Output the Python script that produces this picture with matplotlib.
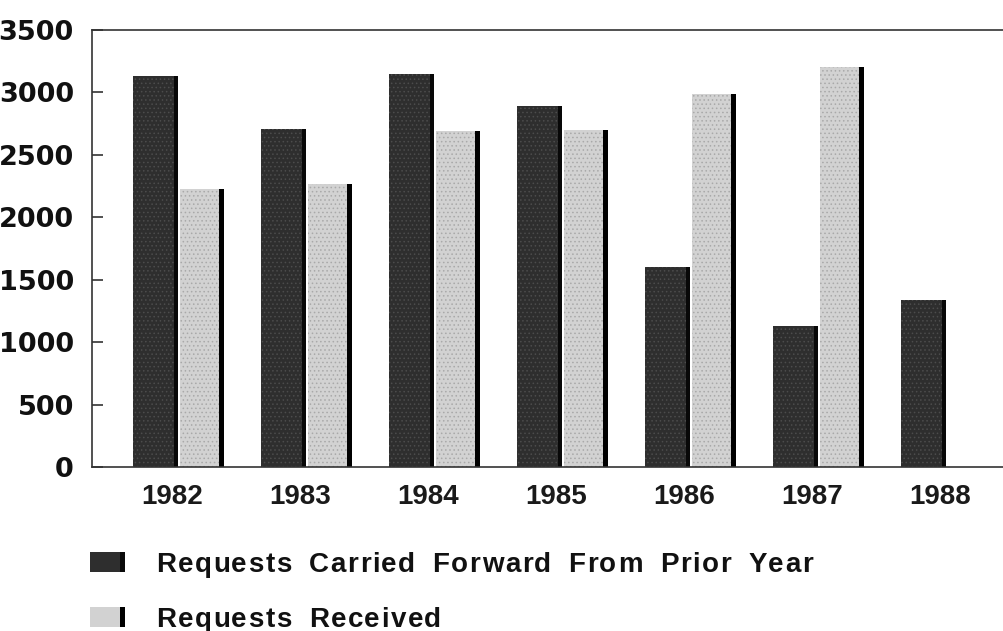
import matplotlib
matplotlib.use("Agg")
import matplotlib.pyplot as plt
from matplotlib.patches import Rectangle
from matplotlib.font_manager import findfont, FontProperties
from matplotlib.ft2font import FT2Font
import numpy as np

years = ["1982", "1983", "1984", "1985", "1986", "1987", "1988"]
carried_forward = [3135, 2705, 3145, 2890, 1605, 1130, 1335]
received = [2225, 2270, 2690, 2700, 2985, 3200, 0]
yticks = [0, 500, 1000, 1500, 2000, 2500, 3000, 3500]
labels = ["Requests Carried Forward From Prior Year", "Requests Received"]

dark = "#2e2e2e"
light = "#d2d2d2"

plt.rcParams['font.family'] = ['DejaVu Sans']
plt.rcParams['hatch.linewidth'] = 0.6

fig = plt.figure(figsize=(10.04, 6.31), dpi=100)
ax = fig.add_axes([0.0916, 0.2599, 0.9084, 0.6926])

x = np.arange(len(years))
w = 0.35
ax.bar(x - 0.305, carried_forward, width=w, align='edge', color=dark, edgecolor='#4c4c4c',
       linewidth=0, hatch='....')
ax.bar(x - 0.305 + w - 0.03, carried_forward, width=0.03, align='edge', color='#080808', edgecolor='none')
mask = np.array(received) > 0
rx = x[mask]
rv = np.array(received)[mask]
ax.bar(rx + 0.06, rv, width=w - 0.04, align='edge', color=light, edgecolor='#a9a9a9',
       linewidth=0, hatch='....')
ax.bar(rx + 0.06 + w - 0.045, rv, width=0.045, align='edge', color='#000000', edgecolor='none')

ax.set_xlim(-0.625, 6.5)
ax.set_ylim(0, 3500)
ax.set_yticks(yticks)
ax.set_yticklabels([str(t) for t in yticks], fontsize=19.5, fontweight='bold',
                   color='#111111', family='DejaVu Sans')
ax.set_xticks(x)
ax.set_xticklabels(years, fontsize=20, fontweight='bold', color='#1a1a1a',
                   family=['Liberation Sans', 'DejaVu Sans'])
ax.tick_params(axis='y', direction='in', length=8, width=1.2, pad=13, color='#333333')
ax.tick_params(axis='x', length=0, pad=12)
for s in ['left', 'top', 'bottom']:
    ax.spines[s].set_linewidth(1.2)
    ax.spines[s].set_color('#333333')
ax.spines['right'].set_visible(False)

# legend (drawn manually, with letter tracking like the typeset original)
W, H = 1004.0, 631.0
LEG_SIZE = 20
fp = FontProperties(family='Liberation Sans', weight='bold', size=LEG_SIZE)
try:
    ft = FT2Font(findfont(fp))
    ft.set_size(LEG_SIZE, 100)
    def advance(ch):
        return ft.load_char(ord(ch)).linearHoriAdvance / 65536.0
except Exception:
    def advance(ch):
        return 0.58 * LEG_SIZE * 100 / 72


def tracked_text(x_px, base_px, s, tracking=1.5, space=16.0):
    xp = x_px
    for ch in s:
        if ch == ' ':
            xp += space
            continue
        fig.text(xp / W, 1 - base_px / H, ch, fontproperties=fp, va='baseline', ha='left',
                 color='#111111')
        xp += advance(ch) + tracking


for (color, lab, top, base) in [(dark, labels[0], 552, 572), (light, labels[1], 607, 627)]:
    fig.add_artist(Rectangle((90 / W, 1 - (top + 20) / H), 35 / W, 20 / H,
                             transform=fig.transFigure, facecolor=color, edgecolor='none'))
    fig.add_artist(Rectangle((120 / W, 1 - (top + 20) / H), 5 / W, 20 / H,
                             transform=fig.transFigure,
                             facecolor='#000000' if color == light else '#0a0a0a', edgecolor='none'))
    tracked_text(156, base, lab)

fig.savefig("out.png", dpi=100)
